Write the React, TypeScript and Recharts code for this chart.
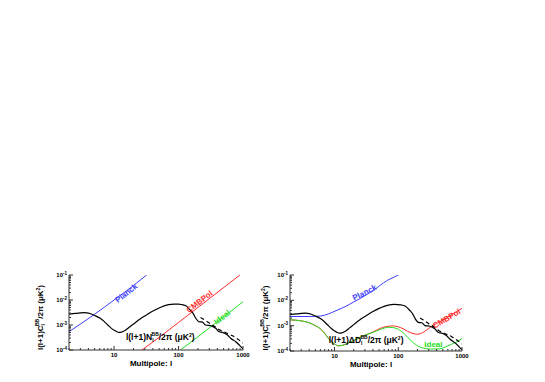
import React from "react";
import { LineChart, Line, XAxis, YAxis, ReferenceDot } from "recharts";

// B-mode power spectrum (solid) and lensing part (dashed)
const lBB = [2, 2.5, 3, 3.5, 4, 5, 6, 7, 8, 9, 10, 11, 12, 13, 15, 17, 20, 25, 30, 40, 50, 60, 70, 85, 100, 110, 128, 154, 170, 184, 207, 234, 264, 315, 377, 427, 480, 574, 650, 780, 1000];
const clBB = [2.7e-3, 2.9e-3, 3.05e-3, 3.1e-3, 3.0e-3, 2.4e-3, 1.9e-3, 1.4e-3, 1.0e-3, 7.5e-4, 6.2e-4, 5.4e-4, 5.1e-4, 5.2e-4, 6.2e-4, 8e-4, 1.1e-3, 1.7e-3, 2.3e-3, 3.6e-3, 4.8e-3, 5.8e-3, 6.5e-3, 6.9e-3, 6.8e-3, 6.6e-3, 6.0e-3, 3.8e-3, 2.8e-3, 1.9e-3, 1.35e-3, 1.3e-3, 1.0e-3, 9.5e-4, 7.4e-4, 5.4e-4, 5.1e-4, 4.0e-4, 2.9e-4, 2.1e-4, 1.1e-4];
const lLens = [220, 260, 300, 360, 430, 550, 700, 850, 1000];
const clLens = [2.0e-3, 1.55e-3, 1.2e-3, 9e-4, 6.5e-4, 4.8e-4, 3.6e-4, 2.6e-4, 1.9e-4];

// left panel: noise N_l
const lPlanckN = [2, 5, 10, 20, 32];
const nPlanck = [5.4e-4, 2.7e-3, 1e-2, 3.8e-2, 0.1];
const lCmbpolN = [27, 50, 100, 300, 1000];
const nCmbpol = [1e-4, 3.2e-4, 1.26e-3, 1.13e-2, 0.125];
const lIdealN = [107, 200, 500, 1000];
const nIdeal = [1e-4, 3.4e-4, 2.1e-3, 8.5e-3];

// right panel: uncertainty Delta D_l
const lPlanckD = [2, 4, 6, 8, 11, 15, 20, 37, 68, 100, 110];
const dPlanck = [2.3e-3, 2.3e-3, 2.4e-3, 2.9e-3, 4.1e-3, 5.8e-3, 8.6e-3, 2.1e-2, 6.2e-2, 0.1, 0.115];
const lCmbpolD = [2, 3, 4, 5, 6, 7, 8, 9, 10, 11.5, 13, 16, 20, 25, 30, 40, 50, 60, 70, 82, 100, 120, 140, 170, 200, 250, 300, 400, 600, 800, 1000];
const dCmbpol = [1.7e-3, 1.55e-3, 1.3e-3, 1.0e-3, 7.5e-4, 5e-4, 3.2e-4, 2.3e-4, 1.9e-4, 1.6e-4, 1.65e-4, 2.0e-4, 2.6e-4, 3.4e-4, 4.2e-4, 5.6e-4, 7.5e-4, 8.8e-4, 9.5e-4, 9.8e-4, 9e-4, 7.5e-4, 6e-4, 4.9e-4, 4.6e-4, 5.6e-4, 7.8e-4, 1.22e-3, 2.2e-3, 3.4e-3, 4.8e-3];
const lIdealD = [2, 3, 4, 5, 6, 7, 8, 9, 10, 11.5, 13, 16, 20, 25, 30, 40, 50, 60, 70, 80, 100, 120, 140, 170, 200, 250, 300, 400, 500, 600, 800, 1000];
const dIdeal = [1.7e-3, 1.55e-3, 1.3e-3, 1.0e-3, 7.5e-4, 5e-4, 3.2e-4, 2.3e-4, 1.9e-4, 1.6e-4, 1.65e-4, 2.0e-4, 2.6e-4, 3.4e-4, 4.2e-4, 5.4e-4, 6.8e-4, 8.0e-4, 8.6e-4, 8.5e-4, 7.2e-4, 5.2e-4, 3.5e-4, 2.2e-4, 1.6e-4, 1.3e-4, 1.2e-4, 1.2e-4, 1.3e-4, 1.6e-4, 2.2e-4, 3.1e-4];

const xDecades = [1, 10, 100];
const yDecades = [1e-4, 1e-3, 1e-2];

const BLUE = "#3c3cff";
const RED = "#ff2b2b";
const GREEN = "#22e022";
const FONT = "'Liberation Sans', Arial, sans-serif";

const pts = (ls: number[], vs: number[]) => ls.map((l, i) => ({ l, v: vs[i] }));

const minorTicks = (decades: number[], last: number) => {
  const t: number[] = [];
  decades.forEach((d) => {
    for (let k = 1; k < 10; k++) t.push(+(d * k).toPrecision(6));
  });
  t.push(last);
  return t;
};
const xTicks = minorTicks(xDecades, 1000).filter((v) => v >= 2);
const yTicks = minorTicks(yDecades, 0.1);

const isMajor = (v: number) => Math.abs(Math.log10(v) - Math.round(Math.log10(v))) < 1e-6;

const BottomTick = ({ x, y, payload }: any) => {
  const major = isMajor(payload.value);
  return (
    <g>
      <line x1={x} x2={x} y1={y} y2={y - (major ? 4 : 2)} stroke="#333" />
      {major && (
        <text x={x} y={y + 7} textAnchor="middle" fontSize={6} fontWeight="bold" fontFamily={FONT}>
          {payload.value}
        </text>
      )}
    </g>
  );
};

const TopTick = ({ x, y, payload }: any) => {
  const major = isMajor(payload.value);
  return <line x1={x} x2={x} y1={y} y2={y + (major ? 4 : 2)} stroke="#333" />;
};

const LeftTick = ({ x, y, payload }: any) => {
  const major = isMajor(payload.value);
  const exp = Math.round(Math.log10(payload.value));
  return (
    <g>
      <line x1={x} x2={x + (major ? 4 : 2)} y1={y} y2={y} stroke="#333" />
      {major && (
        <text x={x - 2} y={y + 2} textAnchor="end" fontSize={6} fontWeight="bold" fontFamily={FONT}>
          10
          <tspan dy={-2.5} fontSize={4.5}>
            {exp}
          </tspan>
        </text>
      )}
    </g>
  );
};

const RightTick = ({ x, y, payload }: any) => {
  const major = isMajor(payload.value);
  return <line x1={x} x2={x - (major ? 4 : 2)} y1={y} y2={y} stroke="#333" />;
};

const tag = (text: string, color: string, angle: number, dy: number) => (p: any) => (
  <text
    x={p.cx}
    y={p.cy}
    dy={dy}
    transform={`rotate(${angle} ${p.cx} ${p.cy})`}
    textAnchor="middle"
    fill={color}
    fontSize={8}
    fontWeight="bold"
    fontFamily={FONT}
  >
    {text}
  </text>
);

const blackTag = (sym: string) => (p: any) => (
  <text x={p.cx} y={p.cy} textAnchor="middle" fontSize={8.5} fontWeight="bold" fontFamily={FONT}>
    l(l+1){sym}
    <tspan dy={2} fontSize={5}>l</tspan>
    <tspan dx={-2} dy={-6} fontSize={5}>BB</tspan>
    <tspan dy={4}>/2π (μK</tspan>
    <tspan dy={-3} fontSize={5}>2</tspan>
    <tspan dy={3}>)</tspan>
  </text>
);

const YTitle = ({ viewBox, dx }: any) => {
  const cx = viewBox.x + dx;
  const cy = viewBox.y + viewBox.height / 2 + 5;
  return (
    <text x={cx} y={cy} transform={`rotate(-90 ${cx} ${cy})`} textAnchor="middle" fontSize={8} fontWeight="bold" fontFamily={FONT}>
      l(l+1)C
      <tspan dy={2} fontSize={5}>l</tspan>
      <tspan dx={-2} dy={-6} fontSize={5}>BB</tspan>
      <tspan dy={4}>/2π (μK</tspan>
      <tspan dy={-3} fontSize={5}>2</tspan>
      <tspan dy={3}>)</tspan>
    </text>
  );
};

const XTitle = ({ viewBox }: any) => (
  <text x={viewBox.x + viewBox.width / 2 - 5} y={viewBox.y + 16} textAnchor="middle" fontSize={8} fontWeight="bold" fontFamily={FONT}>
    Multipole: l
  </text>
);

type Series = { data: { l: number; v: number }[]; color: string };

const Panel = ({
  width,
  margin,
  titleDx,
  series,
  labels,
}: {
  width: number;
  margin: any;
  titleDx: number;
  series: Series[];
  labels: React.ReactNode;
}) => (
  <LineChart width={width} height={127} margin={margin}>
    <XAxis
      dataKey="l"
      type="number"
      scale="log"
      domain={[2, 1000]}
      allowDataOverflow
      ticks={xTicks}
      interval={0}
      tickSize={0}
      tickMargin={0}
      tickLine={false}
      tick={<BottomTick />}
      height={20}
      stroke="#333"
      label={{ content: (p: any) => <XTitle viewBox={p.viewBox} /> }}
    />
    <XAxis
      xAxisId="top"
      orientation="top"
      dataKey="l"
      type="number"
      scale="log"
      domain={[2, 1000]}
      allowDataOverflow
      ticks={xTicks}
      interval={0}
      tickSize={0}
      tickMargin={0}
      tickLine={false}
      tick={<TopTick />}
      height={0}
      stroke="#333"
    />
    <YAxis
      dataKey="v"
      type="number"
      scale="log"
      domain={[1e-4, 0.1]}
      allowDataOverflow
      ticks={yTicks}
      interval={0}
      tickSize={0}
      tickMargin={0}
      tickLine={false}
      tick={<LeftTick />}
      width={30}
      stroke="#333"
      label={{ content: (p: any) => <YTitle viewBox={p.viewBox} dx={titleDx} /> }}
    />
    <YAxis
      yAxisId="right"
      orientation="right"
      dataKey="v"
      type="number"
      scale="log"
      domain={[1e-4, 0.1]}
      allowDataOverflow
      ticks={yTicks}
      interval={0}
      tickSize={0}
      tickMargin={0}
      tickLine={false}
      tick={<RightTick />}
      width={0}
      stroke="#333"
    />
    {series.map((s, i) => (
      <Line
        key={i}
        data={s.data}
        dataKey="v"
        type="monotone"
        stroke={s.color}
        strokeWidth={1}
        dot={false}
        isAnimationActive={false}
      />
    ))}
    <Line data={pts(lBB, clBB)} dataKey="v" type="monotone" stroke="#000" strokeWidth={1.2} dot={false} isAnimationActive={false} />
    <Line data={pts(lLens, clLens)} dataKey="v" type="monotone" stroke="#000" strokeWidth={1.2} strokeDasharray="4 3" dot={false} isAnimationActive={false} />
    {labels}
  </LineChart>
);

export default function App() {
  return (
    <div style={{ position: "absolute", left: 0, top: 0, width: 545, height: 382, background: "#fff" }}>
      <div style={{ position: "absolute", left: 0, top: 255 }}>
        <Panel
          width={260}
          margin={{ top: 20, right: 17, bottom: 12, left: 39 }}
          titleDx={4}
          series={[
            { data: pts(lPlanckN, nPlanck), color: BLUE },
            { data: pts(lCmbpolN, nCmbpol), color: RED },
            { data: pts(lIdealN, nIdeal), color: GREEN },
          ]}
          labels={[
            <ReferenceDot key="p" x={15} y={0.021} r={0} shape={tag("Planck", BLUE, -38, 4)} />,
            <ReferenceDot key="c" x={229} y={6.6e-3} r={0} shape={tag("CMBPol", RED, -38, -1)} />,
            <ReferenceDot key="i" x={482} y={1.98e-3} r={0} shape={tag("Ideal", GREEN, -38, 2)} />,
            <ReferenceDot key="b" x={52} y={2.5e-4} r={0} shape={blackTag("N")} />,
          ]}
        />
      </div>
      <div style={{ position: "absolute", left: 260, top: 255 }}>
        <Panel
          width={285}
          margin={{ top: 20, right: 83, bottom: 11, left: 0 }}
          titleDx={8}
          series={[
            { data: pts(lPlanckD, dPlanck), color: BLUE },
            { data: pts(lCmbpolD, dCmbpol), color: RED },
            { data: pts(lIdealD, dIdeal), color: GREEN },
          ]}
          labels={[
            <ReferenceDot key="p" x={31} y={0.0163} r={0} shape={tag("Planck", BLUE, -27, 0)} />,
            <ReferenceDot key="c" x={560} y={2.1e-3} r={0} shape={tag("CMBPol", RED, -31, 4)} />,
            <ReferenceDot key="i" x={356} y={1.45e-4} r={0} shape={tag("Ideal", GREEN, 0, 0)} />,
            <ReferenceDot key="b" x={31.3} y={2.1e-4} r={0} shape={blackTag("ΔD")} />,
          ]}
        />
      </div>
    </div>
  );
}
